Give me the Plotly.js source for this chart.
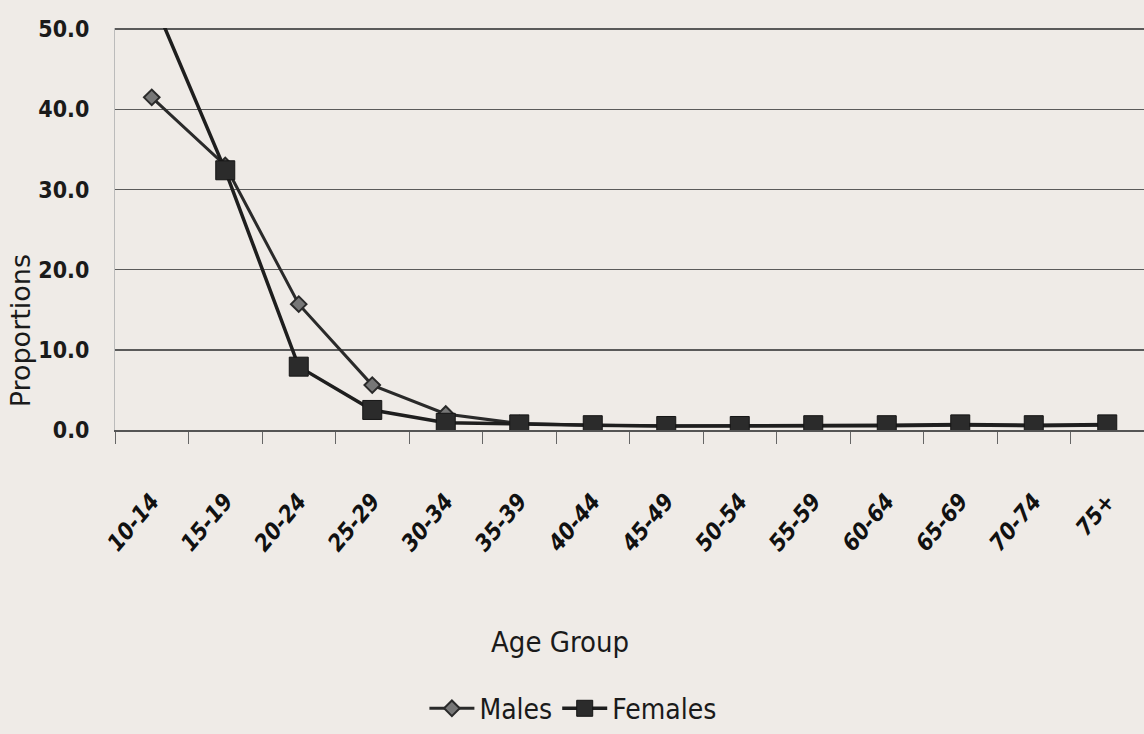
<!DOCTYPE html>
<html>
<head>
<meta charset="utf-8">
<script src="https://cdn.plot.ly/plotly-3.0.1.min.js"></script>
<style>html,body{margin:0;padding:0;background:#efebe7;}#chart{width:1144px;height:734px;}</style>
</head>
<body>
<div id="chart"></div>
<script>
const ageGroups = ["10-14","15-19","20-24","25-29","30-34","35-39","40-44","45-49","50-54","55-59","60-64","65-69","70-74","75+"];
const males = [41.5, 33.0, 15.7, 5.6, 2.0, 0.8, 0.6, 0.5, 0.5, 0.5, 0.5, 0.6, 0.5, 0.6];
const females = [54.0, 32.4, 7.9, 2.5, 0.9, 0.7, 0.6, 0.5, 0.5, 0.6, 0.6, 0.7, 0.6, 0.7];
const yTickVals = [0, 10, 20, 30, 40, 50];
const yTickText = ["0.0","10.0","20.0","30.0","40.0","50.0"];

const F = "DejaVu Sans Condensed, DejaVu Sans, sans-serif";

const traces = [
  {x: ageGroups, y: males, name: "Males", type: "scatter", mode: "lines+markers",
   line: {color: "#2a2a2a", width: 3}, marker: {symbol: "diamond", size: 12, color: "#777", line: {color: "#2a2a2a", width: 2}}},
  {x: ageGroups, y: females, name: "Females", type: "scatter", mode: "lines+markers",
   line: {color: "#1e1e1e", width: 3.5}, marker: {symbol: "square", size: 19, color: "#2b2b2b", line: {color: "#151515", width: 1}}}
];

const layout = {
  width: 1144, height: 734,
  paper_bgcolor: "#efebe7", plot_bgcolor: "#efebe7",
  margin: {l: 115, r: 0, t: 28, b: 302},
  showlegend: true,
  legend: {orientation: "h", x: 0.445, xanchor: "center", y: -0.693, yanchor: "middle", itemwidth: 45,
           font: {family: F, size: 28, color: "#1a1a1a"}, bgcolor: "rgba(0,0,0,0)"},
  xaxis: {
    type: "category", range: [-0.5, 13.5], tickson: "boundaries",
    showgrid: false, showline: true, linecolor: "#555", linewidth: 1.5,
    ticks: "outside", ticklen: 12, tickcolor: "#666", tickwidth: 1,
    tickangle: -50, ticklabelstandoff: 47,
    tickfont: {family: F, size: 23, color: "#111", style: "italic", weight: "bold"},
    zeroline: false
  },
  yaxis: {
    range: [0, 50.15], tickvals: yTickVals, ticktext: yTickText,
    showgrid: true, gridcolor: "#5a5a5a", gridwidth: 1.5,
    showline: true, linecolor: "#bbb", linewidth: 1, zeroline: false,
    ticks: "", ticklen: 0, ticklabelstandoff: 20,
    tickfont: {family: F, size: 23, color: "#1a1a1a", weight: "bold"}
  },
  annotations: [
    {text: "Proportions", textangle: -90, xref: "paper", yref: "paper",
     x: -0.0915, y: 0.2475, xanchor: "center", yanchor: "middle", showarrow: false,
     font: {family: "DejaVu Sans, sans-serif", size: 27, color: "#1a1a1a"}},
    {text: "Age Group", xref: "paper", yref: "paper",
     x: 0.432, y: -0.527, xanchor: "center", yanchor: "middle", showarrow: false,
     font: {family: F, size: 29, color: "#1a1a1a"}}
  ]
};

Plotly.newPlot("chart", traces, layout, {displayModeBar: false, staticPlot: true});
</script>
</body>
</html>
